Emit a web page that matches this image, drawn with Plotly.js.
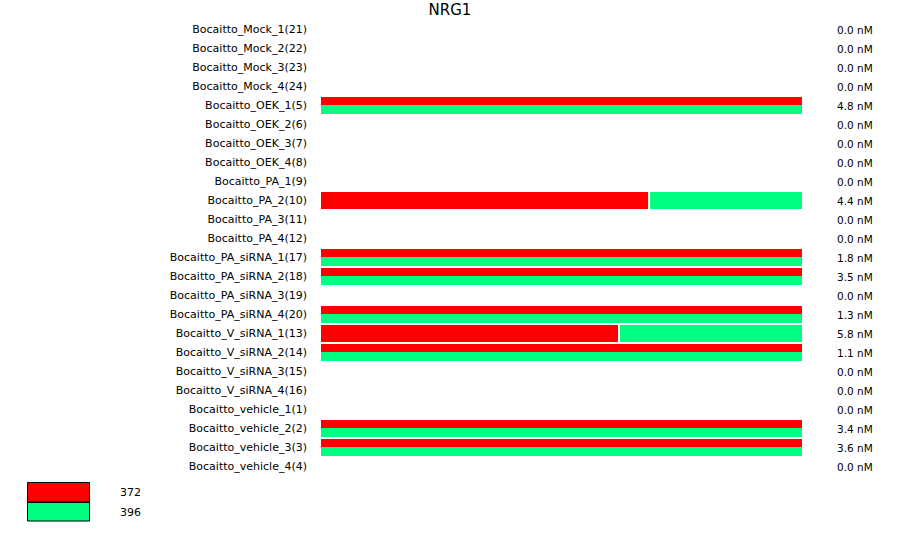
<!DOCTYPE html>
<html>
<head>
<meta charset="utf-8">
<script src="https://cdn.plot.ly/plotly-3.0.1.min.js"></script>
<style>html,body{margin:0;padding:0;background:#fff;}#chart{width:900px;height:546px;}</style>
</head>
<body>
<div id="chart"></div>
<script>
// ---- data ----
const categories = [
  "Bocaitto_Mock_1(21)", "Bocaitto_Mock_2(22)", "Bocaitto_Mock_3(23)", "Bocaitto_Mock_4(24)",
  "Bocaitto_OEK_1(5)", "Bocaitto_OEK_2(6)", "Bocaitto_OEK_3(7)", "Bocaitto_OEK_4(8)",
  "Bocaitto_PA_1(9)", "Bocaitto_PA_2(10)", "Bocaitto_PA_3(11)", "Bocaitto_PA_4(12)",
  "Bocaitto_PA_siRNA_1(17)", "Bocaitto_PA_siRNA_2(18)", "Bocaitto_PA_siRNA_3(19)", "Bocaitto_PA_siRNA_4(20)",
  "Bocaitto_V_siRNA_1(13)", "Bocaitto_V_siRNA_2(14)", "Bocaitto_V_siRNA_3(15)", "Bocaitto_V_siRNA_4(16)",
  "Bocaitto_vehicle_1(1)", "Bocaitto_vehicle_2(2)", "Bocaitto_vehicle_3(3)", "Bocaitto_vehicle_4(4)"
];
const valuesNM = [0.0, 0.0, 0.0, 0.0, 4.8, 0.0, 0.0, 0.0, 0.0, 4.4, 0.0, 0.0,
                  1.8, 3.5, 0.0, 1.3, 5.8, 1.1, 0.0, 0.0, 0.0, 3.4, 3.6, 0.0];
// display type per sample: "" none, "both" = stacked halves, "ratio" = side-by-side split
const displayType = ["", "", "", "", "both", "", "", "", "", "ratio", "", "",
                     "both", "both", "", "both", "ratio", "both", "", "", "", "both", "both", ""];
// share of allele 372 in ratio rows
const share372 = [null, null, null, null, null, null, null, null, null, 0.680, null, null,
                  null, null, null, null, 0.6175, null, null, null, null, null, null, null];
const seriesNames = ["372", "396"];
const seriesColors = ["#FF0000", "#00FF80"];

// ---- layout constants ----
const W = 900, H = 546, ML = 321, MR = 98, MT = 20, MB = 70;
const PW = W - ML - MR, PH = H - MT - MB;
const rowPx = PH / categories.length;
const gap = 2 / PW;
const idx = categories.map((_, i) => i);

const bothIdx = idx.filter(i => displayType[i] === "both");
const ratioIdx = idx.filter(i => displayType[i] === "ratio");

const common = {type: "bar", orientation: "h", hoverinfo: "skip", showlegend: false, marker: {line: {width: 0}}};
const traces = [
  Object.assign({}, common, {
    y: bothIdx, x: bothIdx.map(() => 1), width: 8 / rowPx, offset: -8.5 / rowPx,
    marker: {color: seriesColors[0], line: {width: 0}}, name: seriesNames[0]
  }),
  Object.assign({}, common, {
    y: bothIdx, x: bothIdx.map(() => 1), width: 9 / rowPx, offset: -0.5 / rowPx,
    marker: {color: seriesColors[1], line: {width: 0}}, name: seriesNames[1]
  }),
  Object.assign({}, common, {
    y: ratioIdx, x: ratioIdx.map(i => share372[i]), width: 17 / rowPx, offset: -8.5 / rowPx,
    marker: {color: seriesColors[0], line: {width: 0}}, name: seriesNames[0]
  }),
  Object.assign({}, common, {
    y: ratioIdx, base: ratioIdx.map(i => share372[i] + gap), x: ratioIdx.map(i => 1 - share372[i] - gap),
    width: 17 / rowPx, offset: -8.5 / rowPx,
    marker: {color: seriesColors[1], line: {width: 0}}, name: seriesNames[1]
  })
];

const px2x = p => (p - ML) / PW;
const py2y = p => (H - MB - p) / PH;

const annotations = idx.map(i => ({
  xref: "paper", yref: "y", x: px2x(835), y: i, xanchor: "left", yanchor: "middle",
  text: valuesNM[i].toFixed(1) + " nM", showarrow: false,
  font: {family: "DejaVu Sans", size: 10.5, color: "#000"}
}));
const shapes = [];
const legendTops = [482, 502], legendBottoms = [502, 521];
seriesNames.forEach((name, k) => {
  shapes.push({
    type: "rect", xref: "paper", yref: "paper",
    x0: px2x(27.5), x1: px2x(89.5), y0: py2y(legendBottoms[k]), y1: py2y(legendTops[k] + 0.5),
    fillcolor: seriesColors[k], line: {color: "#000", width: 1}
  });
  annotations.push({
    xref: "paper", yref: "paper", x: px2x(118), y: py2y((legendTops[k] + legendBottoms[k]) / 2 + 0.5),
    xanchor: "left", yanchor: "middle", text: name, showarrow: false,
    font: {family: "DejaVu Sans", size: 11, color: "#000"}
  });
});

const layout = {
  width: W, height: H,
  margin: {l: ML, r: MR, t: MT, b: MB, pad: 0},
  paper_bgcolor: "#fff", plot_bgcolor: "#fff",
  title: {text: "NRG1", x: 0.5, xref: "container", y: 1 - 10 / H, yanchor: "middle",
          font: {family: "DejaVu Sans", size: 15, color: "#000"}},
  barmode: "overlay",
  xaxis: {range: [0, 1], visible: false, fixedrange: true},
  yaxis: {range: [categories.length - 0.5, -0.5], tickvals: idx, ticktext: categories,
          ticks: "", showgrid: false, zeroline: false, showline: false, ticklabelstandoff: 13,
          tickfont: {family: "DejaVu Sans", size: 11, color: "#000"}, fixedrange: true},
  showlegend: false,
  hovermode: false,
  shapes: shapes,
  annotations: annotations
};

Plotly.newPlot("chart", traces, layout, {displayModeBar: false, staticPlot: true});
</script>
</body>
</html>
